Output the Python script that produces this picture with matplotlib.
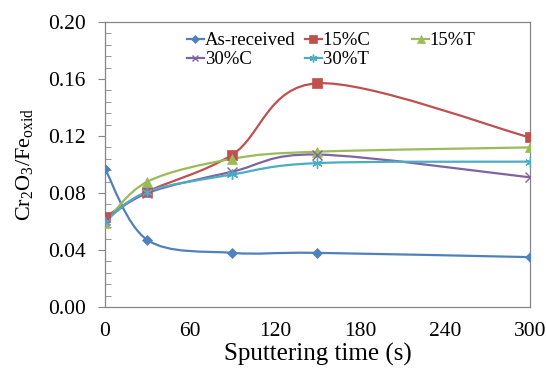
import matplotlib.pyplot as plt
import numpy as np
from matplotlib.lines import Line2D
from matplotlib.patches import PathPatch
from matplotlib.path import Path
from matplotlib.ticker import MultipleLocator

# Sputtering time (s) and Cr2O3/Fe_oxid ratio for each sample.
time_s = [0, 30, 90, 150, 300]
as_received = [0.097, 0.047, 0.038, 0.038, 0.035]
c15 = [0.063, 0.081, 0.107, 0.157, 0.119]
t15 = [0.059, 0.088, 0.104, 0.109, 0.112]
c30 = [0.061, 0.080, 0.095, 0.107, 0.091]
t30 = [0.060, 0.081, 0.093, 0.101, 0.102]

series_names = ["As-received", "15%C", "15%T", "30%C", "30%T"]
series_values = [as_received, c15, t15, c30, t30]

colors = ["#4F81BD", "#C0504D", "#9BBB59", "#8064A2", "#4BACC6"]
markers = ["D", "s", "^", "x", (6, 2, 0)]
msizes = [5.5, 7, 7.5, 6.5, 7.5]

plt.rcParams["font.family"] = ["Liberation Serif", "DejaVu Serif"]
plt.rcParams["mathtext.fontset"] = "custom"
plt.rcParams["mathtext.rm"] = "Liberation Serif"
plt.rcParams["mathtext.it"] = "Liberation Serif"


def smooth_path(xs, ys):
    """Excel-style smoothed line: cubic Bezier segments through every point."""
    pts = np.column_stack([xs, ys]).astype(float)
    ext = np.vstack([pts[0], pts, pts[-1]])
    verts = [pts[0]]
    codes = [Path.MOVETO]
    for i in range(1, len(ext) - 2):
        p0, p1, p2, p3 = ext[i - 1], ext[i], ext[i + 1], ext[i + 2]
        verts += [p1 + (p2 - p0) / 6, p2 - (p3 - p1) / 6, p2]
        codes += [Path.CURVE4] * 3
    return Path(verts, codes)


fig = plt.figure(figsize=(5.46, 3.75), dpi=100)
ax = fig.add_axes([0.1923, 0.1813, 0.7784, 0.76])

handles = []
for name, vals, col, mk, ms in zip(series_names, series_values, colors, markers, msizes):
    ax.add_patch(PathPatch(smooth_path(time_s, vals), facecolor="none",
                           edgecolor=col, linewidth=1.6, zorder=2))
    mew = 1.0 if mk == "x" or isinstance(mk, tuple) else 0.5
    ax.plot(time_s, vals, linestyle="none", marker=mk, markersize=ms,
            color=col, markeredgecolor=col, markeredgewidth=mew, zorder=3)
    handles.append(Line2D([], [], color=col, linewidth=1.6, marker=mk,
                          markersize=ms * 0.75, markeredgewidth=mew, label=name))

ax.set_xlim(0, 300)
ax.set_ylim(0, 0.20)
ax.set_xticks(np.arange(0, 301, 60))
ax.yaxis.set_major_locator(MultipleLocator(0.04))
ax.yaxis.set_minor_locator(MultipleLocator(0.008))
ax.yaxis.set_major_formatter(plt.FormatStrFormatter("%.2f"))

ax.tick_params(axis="x", length=0, labelsize=15.5, pad=11, colors="black")
ax.tick_params(axis="y", which="major", direction="out", length=5,
               labelsize=15.5, color="#868686", labelcolor="black", pad=9)
ax.tick_params(axis="y", which="minor", direction="in", length=4, color="#868686")

for side in ["left", "bottom", "right", "top"]:
    ax.spines[side].set_color("#868686")
    ax.spines[side].set_linewidth(0.9)

ax.set_xlabel("Sputtering time (s)", fontsize=18, labelpad=1)
ax.set_ylabel(r"Cr$_2$O$_3$/Fe$_{\mathrm{oxid}}$", fontsize=16, labelpad=9)

# Row-wise order: As-received, 15%C, 15%T / 30%C, 30%T
order = [0, 3, 1, 4, 2]
labels = [series_names[i] for i in order]
# widen the middle column so the last one sits further right
labels[2] = labels[2].ljust(11)
labels[3] = labels[3].ljust(11)
ax.legend([handles[i] for i in order], labels,
          ncol=3, loc="upper left", bbox_to_anchor=(0.184, 0.978), frameon=False,
          fontsize=13.5, handlelength=0.9, handletextpad=0.05,
          columnspacing=0.5, labelspacing=0.1, borderpad=0.2, borderaxespad=0)

fig.savefig("out.png", dpi=100, facecolor="white")
